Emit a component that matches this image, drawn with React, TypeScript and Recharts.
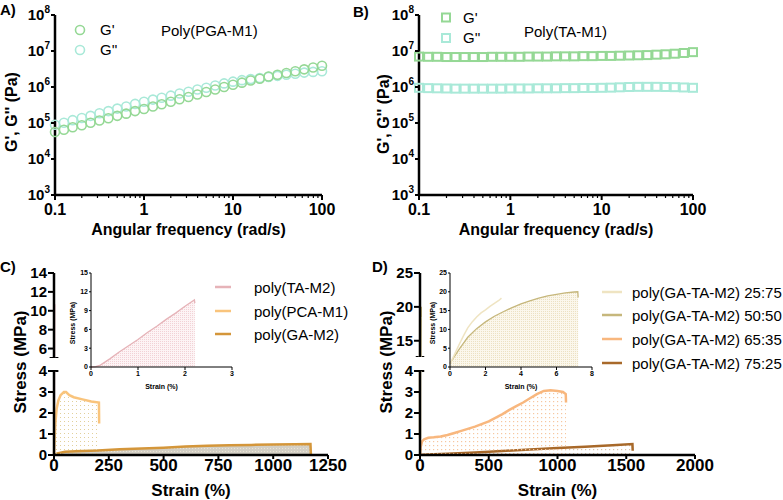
import React from 'react';
import { ScatterChart, Scatter, ComposedChart, Area, Line, XAxis, YAxis, ReferenceLine } from 'recharts';

const FONT = '"Liberation Sans", Arial, Helvetica, sans-serif';

// frequency sweep (rad/s)
const frequency = [0.1, 0.126, 0.158, 0.2, 0.251, 0.316, 0.398, 0.501, 0.631, 0.794, 1, 1.26, 1.58, 2, 2.51, 3.16, 3.98, 5.01, 6.31, 7.94, 10, 12.6, 15.8, 20, 25.1, 31.6, 39.8, 50.1, 63.1, 79.4, 100];
const pgaStorage = [5.6e4, 6.5e4, 7.6e4, 8.7e4, 1.02e5, 1.17e5, 1.35e5, 1.58e5, 1.82e5, 2.14e5, 2.45e5, 2.88e5, 3.31e5, 3.89e5, 4.57e5, 5.25e5, 6.17e5, 7.24e5, 8.51e5, 1.0e6, 1.15e6, 1.32e6, 1.51e6, 1.7e6, 1.95e6, 2.19e6, 2.46e6, 2.75e6, 3.09e6, 3.47e6, 3.89e6];
const pgaLoss = [8.9e4, 1.02e5, 1.2e5, 1.38e5, 1.58e5, 1.86e5, 2.14e5, 2.51e5, 2.88e5, 3.39e5, 3.89e5, 4.47e5, 5.01e5, 5.75e5, 6.61e5, 7.41e5, 8.51e5, 9.55e5, 1.1e6, 1.26e6, 1.41e6, 1.55e6, 1.66e6, 1.78e6, 1.91e6, 2.04e6, 2.19e6, 2.34e6, 2.51e6, 2.63e6, 2.75e6];
const taStorage = [7.0e6, 6.9e6, 6.9e6, 6.8e6, 6.8e6, 6.8e6, 6.8e6, 6.8e6, 6.9e6, 6.9e6, 6.9e6, 6.9e6, 7.0e6, 7.0e6, 7.0e6, 7.1e6, 7.1e6, 7.1e6, 7.2e6, 7.2e6, 7.3e6, 7.3e6, 7.4e6, 7.5e6, 7.6e6, 7.7e6, 7.9e6, 8.1e6, 8.4e6, 8.8e6, 9.3e6];
const taLoss = [9.5e5, 9.3e5, 9.2e5, 9.1e5, 9.0e5, 9.0e5, 9.0e5, 9.0e5, 9.0e5, 9.0e5, 9.1e5, 9.1e5, 9.1e5, 9.2e5, 9.2e5, 9.2e5, 9.3e5, 9.3e5, 9.4e5, 9.4e5, 9.5e5, 9.6e5, 9.8e5, 1.0e6, 1.01e6, 1.01e6, 1.01e6, 1.0e6, 9.9e5, 9.7e5, 9.5e5];

const freqMajor = [0.1, 1, 10, 100];
const freqTicks = [0.1, 0.2, 0.3, 0.4, 0.5, 0.6, 0.7, 0.8, 0.9, 1, 2, 3, 4, 5, 6, 7, 8, 9, 10, 20, 30, 40, 50, 60, 70, 80, 90, 100];
const modulusTicks = [1e3, 1e4, 1e5, 1e6, 1e7, 1e8];

// stress-strain curves: s = strain (%), p = stress (MPa)
const polyTAM2 = [
  { s: 0, p: 0 }, { s: 0.1, p: 0.05 }, { s: 0.2, p: 0.3 }, { s: 0.4, p: 1.3 }, { s: 0.6, p: 2.4 },
  { s: 0.8, p: 3.4 }, { s: 1.0, p: 4.4 }, { s: 1.2, p: 5.5 }, { s: 1.4, p: 6.5 }, { s: 1.6, p: 7.6 },
  { s: 1.8, p: 8.6 }, { s: 2.0, p: 9.7 }, { s: 2.2, p: 10.7 }, { s: 2.21, p: 10.2 },
];
const polyPCAM1 = [
  { s: 0, p: 0 }, { s: 3, p: 0.8 }, { s: 7, p: 1.6 }, { s: 12, p: 2.2 }, { s: 20, p: 2.6 },
  { s: 30, p: 2.85 }, { s: 45, p: 3.0 }, { s: 55, p: 3.0 }, { s: 70, p: 2.85 }, { s: 90, p: 2.75 },
  { s: 130, p: 2.65 }, { s: 170, p: 2.55 }, { s: 205, p: 2.5 }, { s: 206, p: 1.5 },
];
const polyGAM2 = [
  { s: 0, p: 0 }, { s: 15, p: 0.08 }, { s: 50, p: 0.15 }, { s: 100, p: 0.18 }, { s: 200, p: 0.22 },
  { s: 300, p: 0.27 }, { s: 400, p: 0.31 }, { s: 500, p: 0.35 }, { s: 600, p: 0.4 }, { s: 700, p: 0.44 },
  { s: 800, p: 0.46 }, { s: 900, p: 0.48 }, { s: 1000, p: 0.5 }, { s: 1100, p: 0.51 }, { s: 1170, p: 0.52 },
  { s: 1172, p: 0.02 },
];
const gata2575 = [
  { s: 0, p: 0.8 }, { s: 0.25, p: 3.3 }, { s: 0.5, p: 5.8 }, { s: 0.75, p: 8.2 }, { s: 1, p: 10.4 },
  { s: 1.25, p: 12.0 }, { s: 1.5, p: 13.3 }, { s: 1.75, p: 14.4 }, { s: 2, p: 15.2 }, { s: 2.25, p: 16.1 },
  { s: 2.5, p: 16.9 }, { s: 2.75, p: 17.7 }, { s: 2.9, p: 18.3 },
];
const gata5050 = [
  { s: 0, p: 1 }, { s: 0.5, p: 4.6 }, { s: 1, p: 7.9 }, { s: 1.5, p: 10.2 }, { s: 2, p: 12.0 },
  { s: 2.5, p: 13.5 }, { s: 3, p: 14.7 }, { s: 3.5, p: 15.8 }, { s: 4, p: 16.8 }, { s: 4.5, p: 17.6 },
  { s: 5, p: 18.3 }, { s: 5.5, p: 18.9 }, { s: 6, p: 19.3 }, { s: 6.5, p: 19.7 }, { s: 7, p: 19.95 },
  { s: 7.2, p: 20.0 }, { s: 7.22, p: 18.5 },
];
const gata6535 = [
  { s: 0, p: 0 }, { s: 5, p: 0.4 }, { s: 15, p: 0.65 }, { s: 30, p: 0.75 }, { s: 60, p: 0.82 },
  { s: 100, p: 0.84 }, { s: 150, p: 0.88 }, { s: 200, p: 0.95 }, { s: 250, p: 1.05 }, { s: 300, p: 1.15 },
  { s: 400, p: 1.35 }, { s: 500, p: 1.6 }, { s: 600, p: 1.95 }, { s: 650, p: 2.15 }, { s: 700, p: 2.33 },
  { s: 750, p: 2.5 }, { s: 800, p: 2.7 }, { s: 850, p: 2.9 }, { s: 900, p: 3.05 }, { s: 950, p: 3.08 },
  { s: 1000, p: 3.05 }, { s: 1040, p: 3.0 }, { s: 1060, p: 2.9 }, { s: 1062, p: 2.5 },
];
const gata7525 = [
  { s: 0, p: 0 }, { s: 50, p: 0.02 }, { s: 200, p: 0.06 }, { s: 400, p: 0.12 }, { s: 600, p: 0.19 },
  { s: 800, p: 0.26 }, { s: 1000, p: 0.33 }, { s: 1200, p: 0.39 }, { s: 1400, p: 0.46 }, { s: 1545, p: 0.52 },
  { s: 1547, p: 0.2 },
];

const C = {
  gp: '#95d895',
  gpp: '#a9e9d8',
  ta: '#e6b3b8',
  pca: '#f9c47c',
  ga: '#d4963a',
  m2575: '#efe4c2',
  m5050: '#c6b77c',
  m6535: '#f8b77e',
  m7525: '#a8692a',
};

const toPoints = (vals: number[]) => frequency.map((f, i) => ({ f, v: vals[i] }));

const Pos = ({ left, top, children }: any) => (
  <div style={{ position: 'absolute', left, top }}>{children}</div>
);

function FreqTick({ x, y, payload }: any) {
  const major = freqMajor.includes(payload.value);
  return (
    <g>
      <line x1={x} x2={x} y1={y} y2={y + (major ? 5 : 3)} stroke="#000" strokeWidth={major ? 2 : 1.2} />
      {major && (
        <text x={x} y={y + 20} textAnchor="middle" fontSize={16} fontWeight="bold" fill="#000">
          {payload.value}
        </text>
      )}
    </g>
  );
}

function PowerTick({ x, y, payload }: any) {
  const exp = Math.round(Math.log10(payload.value));
  return (
    <g>
      <line x1={x - 4} x2={x} y1={y} y2={y} stroke="#000" strokeWidth={2} />
      <text x={x - 5} y={y + 5} textAnchor="end" fontSize={15} fontWeight="bold" fill="#000">
        10<tspan dy={-7} fontSize={10}>{exp}</tspan>
      </text>
    </g>
  );
}

const yTitle = (text: string, dx: number, dy: number, size: number) => ({ viewBox }: any) => (
  <text
    transform={`translate(${viewBox.x + dx},${viewBox.y + viewBox.height / 2 + dy}) rotate(-90)`}
    textAnchor="middle"
    dominantBaseline="central"
    fontSize={size}
    fontWeight="bold"
    fill="#000"
  >
    {text}
  </text>
);

const xTitle = (text: string, dy: number, size: number) => ({ viewBox }: any) => (
  <text x={viewBox.x + viewBox.width / 2} y={viewBox.y + dy} textAnchor="middle" fontSize={size} fontWeight="bold" fill="#000">
    {text}
  </text>
);

const axisLine = { stroke: '#000', strokeWidth: 2.5 };
const tickLine = { stroke: '#000', strokeWidth: 2 };
const yTickStyle = { fontSize: 15, fontWeight: 'bold', fill: '#000' };
const xTickStyle = { fontSize: 17, fontWeight: 'bold', fill: '#000' };
const insetTick = { fontSize: 7, fontWeight: 'bold', fill: '#000' };
const insetAxis = { stroke: '#000', strokeWidth: 1 };

function Patterns() {
  return (
    <defs>
      <pattern id="dotsPink" width="2" height="2" patternUnits="userSpaceOnUse">
        <rect width="2" height="2" fill="#fdf4f5" />
        <rect width="1" height="1" fill="#f2d2d6" />
      </pattern>
      <pattern id="dotsTan" width="4" height="4" patternUnits="userSpaceOnUse">
        <rect width="1" height="1" fill="#e2d09a" />
      </pattern>
      <pattern id="dotsGray" width="3" height="3" patternUnits="userSpaceOnUse">
        <rect width="3" height="3" fill="#d3cfc5" />
        <rect width="1" height="1" fill="#ebe5d5" />
      </pattern>
      <pattern id="dotsOrange" width="4" height="4" patternUnits="userSpaceOnUse">
        <rect width="1.2" height="1.2" fill="#f6c7a0" />
      </pattern>
      <pattern id="dotsBrown" width="4" height="4" patternUnits="userSpaceOnUse">
        <rect width="1.2" height="1.2" fill="#dcc3a6" />
      </pattern>
      <pattern id="dotsKhaki" width="2" height="2" patternUnits="userSpaceOnUse">
        <rect width="2" height="2" fill="#fbf7ec" />
        <rect width="1" height="1" fill="#ece1c2" />
      </pattern>
    </defs>
  );
}

function ModulusPanel({ storage, loss, square, titleDx, titleDy }: any) {
  const shape = (color: string) => (p: any) =>
    square ? (
      <rect x={p.cx - 4} y={p.cy - 4} width={8} height={8} fill="none" stroke={color} strokeWidth={2} />
    ) : (
      <circle cx={p.cx} cy={p.cy} r={4.5} fill="none" stroke={color} strokeWidth={1.6} />
    );
  return (
    <ScatterChart width={square ? 347 : 340} height={240} margin={{ top: 15, right: 18, left: 0, bottom: 0 }}>
      <XAxis
        type="number"
        dataKey="f"
        scale="log"
        domain={[0.1, 100]}
        ticks={freqTicks}
        interval={0}
        tickSize={0}
        tickMargin={0}
        tickLine={false}
        axisLine={axisLine}
        tick={<FreqTick />}
        height={45}
        label={xTitle('Angular frequency (rad/s)', 40, 16)}
      />
      <YAxis
        type="number"
        dataKey="v"
        scale="log"
        domain={[1e3, 1e8]}
        ticks={modulusTicks}
        interval={0}
        tickSize={0}
        tickMargin={0}
        tickLine={false}
        axisLine={axisLine}
        tick={<PowerTick />}
        width={55}
        label={yTitle("G', G'' (Pa)", titleDx, titleDy, 16)}
      />
      <Scatter data={toPoints(loss)} shape={shape(C.gpp)} isAnimationActive={false} />
      <Scatter data={toPoints(storage)} shape={shape(C.gp)} isAnimationActive={false} />
    </ScatterChart>
  );
}

function Overlay() {
  const t = { fontFamily: FONT, fill: '#000' } as any;
  return (
    <svg width={783} height={500} style={{ position: 'absolute', left: 0, top: 0, pointerEvents: 'none' }}>
      <g {...t} fontWeight="bold" fontSize={15}>
        <text x={0} y={15}>A)</text>
        <text x={353} y={17}>B)</text>
        <text x={0} y={272}>C)</text>
        <text x={372} y={272}>D)</text>
      </g>
      <g {...t} fontSize={15}>
        <circle cx={80} cy={30} r={4.5} fill="none" stroke={C.gp} strokeWidth={1.6} />
        <circle cx={80} cy={50} r={4.5} fill="none" stroke={C.gpp} strokeWidth={1.6} />
        <text x={100} y={35}>G'</text>
        <text x={100} y={55}>G''</text>
        <text x={161} y={36}>Poly(PGA-M1)</text>
        <rect x={442} y={13.5} width={8} height={8} fill="none" stroke={C.gp} strokeWidth={2} />
        <rect x={442} y={34} width={8} height={8} fill="none" stroke={C.gpp} strokeWidth={2} />
        <text x={463} y={23}>G'</text>
        <text x={463} y={43}>G''</text>
        <text x={524} y={37}>Poly(TA-M1)</text>
      </g>
      <g {...t} fontSize={15}>
        {[
          ['poly(TA-M2)', C.ta, 287],
          ['poly(PCA-M1)', C.pca, 311],
          ['poly(GA-M2)', C.ga, 334],
        ].map(([label, color, y]: any) => (
          <g key={label}>
            <line x1={215} x2={231} y1={y} y2={y} stroke={color} strokeWidth={2.5} />
            <text x={254} y={y + 5.5}>{label}</text>
          </g>
        ))}
        {[
          ['poly(GA-TA-M2) 25:75', C.m2575, 292],
          ['poly(GA-TA-M2) 50:50', C.m5050, 315],
          ['poly(GA-TA-M2) 65:35', C.m6535, 339],
          ['poly(GA-TA-M2) 75:25', C.m7525, 363],
        ].map(([label, color, y]: any) => (
          <g key={label}>
            <line x1={602} x2={622} y1={y} y2={y} stroke={color} strokeWidth={2.5} />
            <text x={632} y={y + 5.5}>{label}</text>
          </g>
        ))}
      </g>
      <g {...t} fontSize={17} fontWeight="bold">
        <text transform="translate(20,362) rotate(-90)" textAnchor="middle" dominantBaseline="central">Stress (MPa)</text>
        <text transform="translate(386,362) rotate(-90)" textAnchor="middle" dominantBaseline="central">Stress (MPa)</text>
      </g>
    </svg>
  );
}

export default function App() {
  return (
    <div style={{ position: 'absolute', left: 0, top: 0, width: 783, height: 500, background: '#fff', fontFamily: FONT }}>
      <Pos left={0} top={0}>
        <ModulusPanel storage={pgaStorage} loss={pgaLoss} square={false} titleDx={11} titleDy={7} />
      </Pos>
      <Pos left={364} top={0}>
        <ModulusPanel storage={taStorage} loss={taLoss} square titleDx={19} titleDy={9} />
      </Pos>

      {/* C: upper segment of broken axis */}
      <Pos left={0} top={263}>
        <ComposedChart width={365} height={95} margin={{ top: 10, right: 37, left: 0, bottom: 0 }}>
          <XAxis type="number" dataKey="s" domain={[0, 1250]} hide />
          <YAxis type="number" domain={[5, 14]} ticks={[6, 8, 10, 12, 14]} interval={0} allowDataOverflow width={54}
            tickSize={6} tickMargin={1} axisLine={axisLine} tickLine={tickLine} tick={yTickStyle} />
          <ReferenceLine segment={[{ x: -20, y: 5 }, { x: 20, y: 5 }]} stroke="#000" strokeWidth={2} ifOverflow="visible" />
          <Line data={polyTAM2} dataKey="p" stroke={C.ta} strokeWidth={2} dot={false} activeDot={false} isAnimationActive={false} />
        </ComposedChart>
      </Pos>
      {/* C: lower segment */}
      <Pos left={0} top={361}>
        <ComposedChart width={365} height={139} margin={{ top: 10, right: 37, left: 0, bottom: 0 }}>
          <Patterns />
          <XAxis type="number" dataKey="s" domain={[0, 1250]} ticks={[0, 250, 500, 750, 1000, 1250]} interval={0}
            height={45} tickSize={4} tickMargin={0} axisLine={axisLine} tickLine={tickLine} tick={xTickStyle}
            label={xTitle('Strain (%)', 41, 17)} />
          <YAxis type="number" domain={[0, 4]} ticks={[0, 1, 2, 3, 4]} interval={0} allowDataOverflow width={54}
            tickSize={6} tickMargin={1} axisLine={axisLine} tickLine={tickLine} tick={yTickStyle} />
          <ReferenceLine segment={[{ x: -20, y: 4 }, { x: 20, y: 4 }]} stroke="#000" strokeWidth={2} ifOverflow="visible" />
          <Area data={polyGAM2} dataKey="p" type="linear" stroke={C.ga} strokeWidth={2.5} fill="url(#dotsGray)" fillOpacity={1} dot={false} activeDot={false} isAnimationActive={false} />
          <Area data={polyPCAM1} dataKey="p" type="linear" stroke={C.pca} strokeWidth={2.5} fill="url(#dotsTan)" fillOpacity={1} dot={false} activeDot={false} isAnimationActive={false} />
          <Line data={polyTAM2} dataKey="p" stroke={C.ta} strokeWidth={2} dot={false} activeDot={false} isAnimationActive={false} />
        </ComposedChart>
      </Pos>
      {/* C inset */}
      <Pos left={60} top={263}>
        <ComposedChart width={180} height={132} margin={{ top: 10, right: 8, left: 0, bottom: 0 }}>
          <Patterns />
          <XAxis type="number" dataKey="s" domain={[0, 3]} ticks={[0, 1, 2, 3]} interval={0} height={28}
            tickSize={3} tickMargin={1} axisLine={insetAxis} tickLine={insetAxis} tick={insetTick}
            label={xTitle('Strain (%)', 22, 7)} />
          <YAxis type="number" domain={[0, 15]} ticks={[0, 3, 6, 9, 12, 15]} interval={0} width={31}
            tickSize={2} tickMargin={1} axisLine={insetAxis} tickLine={insetAxis} tick={insetTick}
            label={yTitle('Stress (MPa)', 12, 3, 7)} />
          <Area data={polyTAM2} dataKey="p" type="linear" stroke={C.ta} strokeWidth={1.3} fill="url(#dotsPink)" fillOpacity={1} dot={false} activeDot={false} isAnimationActive={false} />
        </ComposedChart>
      </Pos>

      {/* D: upper segment */}
      <Pos left={365} top={263}>
        <ComposedChart width={370} height={94} margin={{ top: 10, right: 40, left: 0, bottom: 0 }}>
          <XAxis type="number" dataKey="s" domain={[0, 2000]} hide />
          <YAxis type="number" domain={[12.6, 25]} ticks={[15, 20, 25]} interval={0} allowDataOverflow width={55}
            tickSize={6} tickMargin={1} axisLine={axisLine} tickLine={tickLine} tick={yTickStyle} />
          <ReferenceLine segment={[{ x: -31, y: 12.6 }, { x: 31, y: 12.6 }]} stroke="#000" strokeWidth={2} ifOverflow="visible" />
          <Line data={gata2575} dataKey="p" stroke={C.m2575} strokeWidth={3} dot={false} activeDot={false} isAnimationActive={false} />
          <Line data={gata5050} dataKey="p" stroke={C.m5050} strokeWidth={2} dot={false} activeDot={false} isAnimationActive={false} />
        </ComposedChart>
      </Pos>
      {/* D: lower segment */}
      <Pos left={365} top={361}>
        <ComposedChart width={370} height={139} margin={{ top: 10, right: 40, left: 0, bottom: 0 }}>
          <Patterns />
          <XAxis type="number" dataKey="s" domain={[0, 2000]} ticks={[0, 500, 1000, 1500, 2000]} interval={0}
            height={45} tickSize={4} tickMargin={0} axisLine={axisLine} tickLine={tickLine} tick={xTickStyle}
            label={xTitle('Strain (%)', 41, 17)} />
          <YAxis type="number" domain={[0, 4]} ticks={[0, 1, 2, 3, 4]} interval={0} allowDataOverflow width={55}
            tickSize={6} tickMargin={1} axisLine={axisLine} tickLine={tickLine} tick={yTickStyle} />
          <ReferenceLine segment={[{ x: -31, y: 4 }, { x: 31, y: 4 }]} stroke="#000" strokeWidth={2} ifOverflow="visible" />
          <Area data={gata7525} dataKey="p" type="linear" stroke={C.m7525} strokeWidth={2.5} fill="url(#dotsBrown)" fillOpacity={1} dot={false} activeDot={false} isAnimationActive={false} />
          <Area data={gata6535} dataKey="p" type="linear" stroke={C.m6535} strokeWidth={2.5} fill="url(#dotsOrange)" fillOpacity={1} dot={false} activeDot={false} isAnimationActive={false} />
          <Line data={gata5050} dataKey="p" stroke={C.m5050} strokeWidth={2} dot={false} activeDot={false} isAnimationActive={false} />
          <Line data={gata2575} dataKey="p" stroke={C.m2575} strokeWidth={3} dot={false} activeDot={false} isAnimationActive={false} />
        </ComposedChart>
      </Pos>
      {/* D inset */}
      <Pos left={419} top={263}>
        <ComposedChart width={181} height={132} margin={{ top: 10, right: 8, left: 0, bottom: 0 }}>
          <Patterns />
          <XAxis type="number" dataKey="s" domain={[0, 8]} ticks={[0, 2, 4, 6, 8]} interval={0} height={28}
            tickSize={3} tickMargin={1} axisLine={insetAxis} tickLine={insetAxis} tick={insetTick}
            label={xTitle('Strain (%)', 22, 7)} />
          <YAxis type="number" domain={[0, 25]} ticks={[0, 5, 10, 15, 20, 25]} interval={0} width={31}
            tickSize={2} tickMargin={1} axisLine={insetAxis} tickLine={insetAxis} tick={insetTick}
            label={yTitle('Stress (MPa)', 13, 3, 7)} />
          <Area data={gata5050} dataKey="p" type="linear" stroke={C.m5050} strokeWidth={1.3} fill="url(#dotsKhaki)" fillOpacity={1} dot={false} activeDot={false} isAnimationActive={false} />
          <Line data={gata2575} dataKey="p" stroke={C.m2575} strokeWidth={1.5} dot={false} activeDot={false} isAnimationActive={false} />
        </ComposedChart>
      </Pos>

      <Overlay />
    </div>
  );
}
